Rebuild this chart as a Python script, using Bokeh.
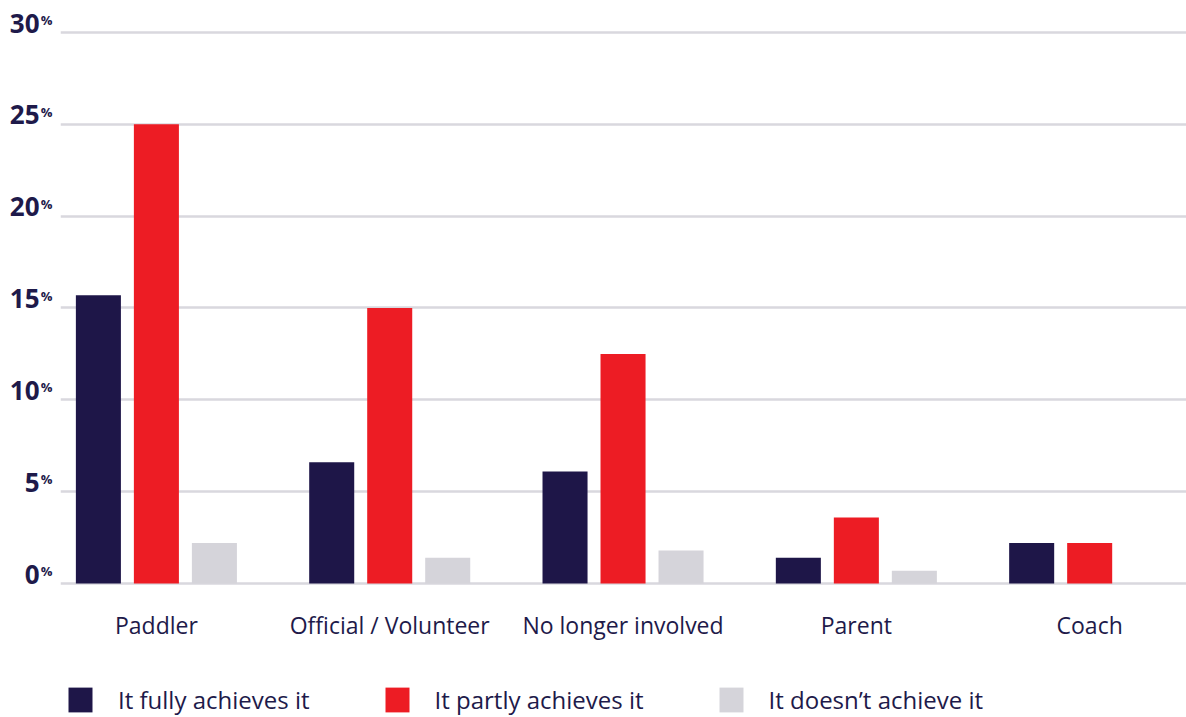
from bokeh.plotting import figure
from bokeh.models import (ColumnDataSource, Range1d, FixedTicker, LinearAxis, Grid,
                          Legend, LegendItem, LabelSet)
from bokeh.core.properties import value
from bokeh.transform import dodge
from bokeh.embed import file_html
from bokeh.resources import INLINE

# --- data -------------------------------------------------------------
categories = ["Paddler", "Official / Volunteer", "No longer involved", "Parent", "Coach"]
fully = [15.7, 6.6, 6.1, 1.4, 2.2]
partly = [25.0, 15.0, 12.5, 3.6, 2.2]
doesnt = [2.2, 1.4, 1.8, 0.7, 0.0]
series_labels = ["It fully achieves it", "It partly achieves it", "It doesn\u2019t achieve it"]
y_ticks = [0, 5, 10, 15, 20, 25, 30]

# --- style ------------------------------------------------------------
NAVY = "#1e1648"
RED = "#ed1c24"
GREY = "#d5d4da"
GRID = "#d9d8de"
TEXT = "#1e1a4a"
FONT = "Open Sans"

positions = list(range(len(categories)))
source = ColumnDataSource(dict(pos=positions, cat=categories,
                               fully=fully, partly=partly, doesnt=doesnt))

X_LO, X_HI = -0.411, 4.415
Y_LO, Y_HI = -7.296, 31.742
p = figure(
    width=1186, height=717,
    x_range=Range1d(X_LO, X_HI), y_range=Range1d(Y_LO, Y_HI),
    x_axis_location=None, y_axis_location=None,
    output_backend="svg", toolbar_location=None, tools="",
    min_border_left=60, min_border_right=0, min_border_top=0, min_border_bottom=0,
)
p.outline_line_color = None
p.background_fill_color = "white"
p.border_fill_color = "white"
for g in p.grid:
    g.visible = False

# horizontal grid lines every 5 %
grid = Grid(dimension=1, ticker=FixedTicker(ticks=y_ticks),
            grid_line_color=GRID, grid_line_width=2.5)
if "cross_bounds" in Grid.properties():
    grid.cross_bounds = (X_LO, X_HI)
p.add_layout(grid)

# y labels: a bold number with a small raised percent sign beside it,
# each on its own axis whose range is shifted to lift the label
p.extra_y_ranges = {
    "pct": Range1d(Y_LO - 0.68, Y_HI - 0.68),
    "num": Range1d(Y_LO - 0.51, Y_HI - 0.51),
}
pct_axis = LinearAxis(y_range_name="pct", ticker=FixedTicker(ticks=y_ticks),
                      major_label_overrides={t: "%" for t in y_ticks})
num_axis = LinearAxis(y_range_name="num", ticker=FixedTicker(ticks=y_ticks))
for ax, size, standoff in [(pct_axis, "13px", 8), (num_axis, "26px", -2)]:
    ax.axis_line_color = None
    ax.major_tick_line_color = None
    ax.minor_tick_line_color = None
    ax.major_tick_out = 0
    ax.major_tick_in = 0
    ax.major_label_standoff = standoff
    ax.major_label_text_font = FONT
    ax.major_label_text_font_size = size
    ax.major_label_text_font_style = "bold"
    ax.major_label_text_color = TEXT
p.add_layout(pct_axis, "left")
p.add_layout(num_axis, "left")

# grouped bars
W = 0.193
STEP = 0.2486
items = []
for field, off, color, lab in [("fully", -STEP, NAVY, series_labels[0]),
                               ("partly", 0.0, RED, series_labels[1]),
                               ("doesnt", STEP, GREY, series_labels[2])]:
    r = p.vbar(x=dodge("pos", off, range=p.x_range), top=field, bottom=0, width=W,
               source=source, fill_color=color, line_color=None)
    items.append(LegendItem(label=lab, renderers=[r]))

# category names under each group
p.add_layout(LabelSet(x="pos", y=0, text="cat", source=source, y_offset=-51,
                      text_align="center", text_baseline="alphabetic",
                      text_font=value(FONT), text_font_size="23px", text_color=TEXT))

# legend along the bottom
lg = Legend(items=items, orientation="horizontal", location=(5, 1),
            margin=0, padding=0, spacing=72,
            glyph_width=30, glyph_height=31, label_height=31, label_standoff=23,
            label_text_font=FONT, label_text_font_size="24px", label_text_color=TEXT,
            border_line_color=None, background_fill_alpha=0)
p.add_layout(lg)

open("out.html", "w").write(file_html(p, INLINE))
